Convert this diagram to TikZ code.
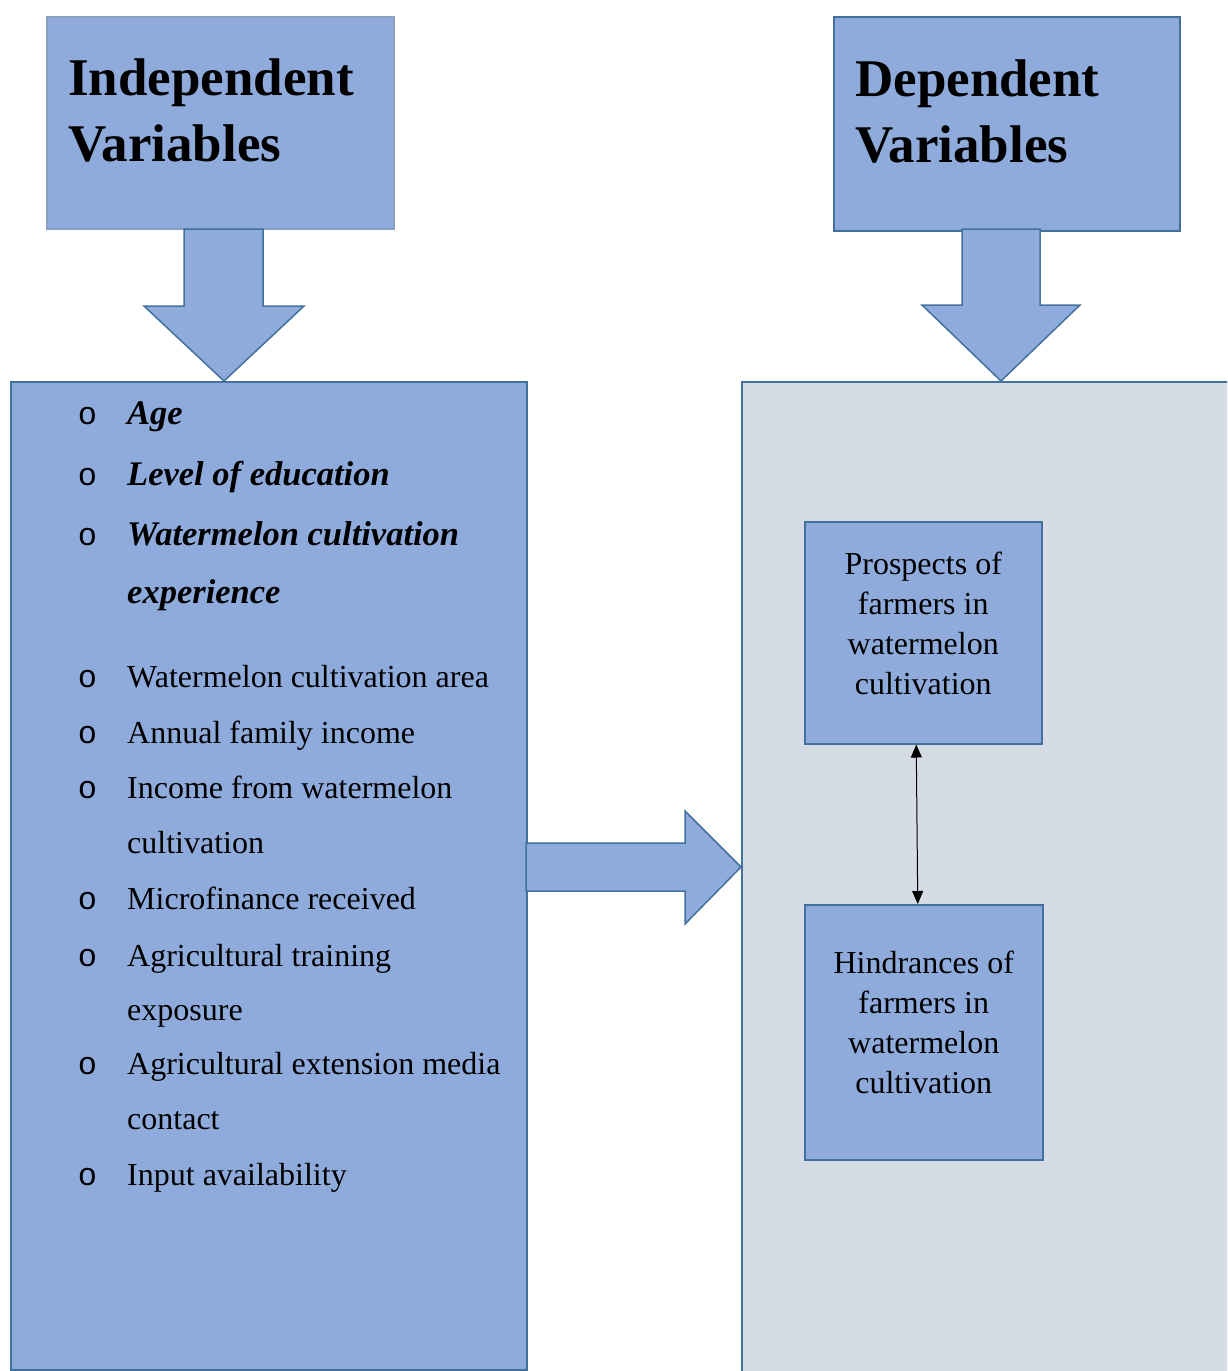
\documentclass[tikz,border=0pt]{standalone}
\usepackage{fontspec}
\setmainfont{Liberation Serif}
\newfontfamily\bulletfont{Liberation Mono}
\usetikzlibrary{arrows.meta, positioning}

\definecolor{boxFill}{RGB}{143,171,220}
\definecolor{boxLine}{RGB}{65,113,156}
\definecolor{titleLine}{RGB}{138,160,194}
\definecolor{panelFill}{RGB}{214,220,229}
\newcommand{\bulletmark}{\llap{{\normalfont\fontsize{32}{40}\selectfont\bulletfont o}\hspace{30pt}}}
\newcommand{\lift}{\rule[-20pt]{0pt}{20pt}}

\tikzset{
  varbox/.style={draw=boxLine, fill=boxFill, line width=1.5pt, inner sep=0pt, anchor=north west},
  blockarrow/.style={draw=boxLine, fill=boxFill, line width=1.5pt, line join=miter},
  title/.style={anchor=north west, inner sep=0pt, align=left, font=\fontsize{53}{66}\selectfont\bfseries},
  boxtext/.style={align=center, font=\fontsize{32}{40}\selectfont},
  item/.style={anchor=base west, inner sep=0pt, font=\fontsize{32}{40}\selectfont},
  keyitem/.style={item, font=\fontsize{34.5}{40}\selectfont\bfseries\itshape},
}

\begin{document}
\begin{tikzpicture}[x=1pt, y=-1pt, >={Triangle[length=13pt,width=11pt]}]
\clip (0,0) rectangle (1227,1371);
% the two big panels
\node[varbox, minimum width=516, minimum height=988] (indlist) at (10,381) {};
\node[varbox, fill=panelFill, minimum width=520, minimum height=1020] (deppanel) at (741,381) {};
% header boxes
\node[varbox, draw=titleLine, minimum width=347, minimum height=212] (indep) at (46,16) {};
\node[varbox, minimum width=346, minimum height=214] (dep) at (833,16) {};
\node[title] (indeptitle) at (68,59) {Independent\\Variables};
\node[title] (deptitle) at (855,60) {Dependent\\Variables};
% block arrows
\draw[blockarrow] (184,229) -- (263,229) -- (263,306) -- (304,306) -- (224,381) -- (144,306) -- (184,306) -- cycle;
\draw[blockarrow] (962,229) -- (1040,229) -- (1040,305) -- (1080,305) -- (1001,381) -- (922,305) -- (962,305) -- cycle;
\draw[blockarrow] (526,843) -- (685,843) -- (685,811) -- (741,867) -- (685,924) -- (685,891) -- (526,891) -- cycle;
% independent variables
\node[keyitem] (age) at (127,424) {\bulletmark Age};
\node[keyitem] (edu) at (127,485) {\bulletmark Level of education};
\node[keyitem] (exper) at (127,545) {\bulletmark Watermelon cultivation};
\node[keyitem] (experB) at (127,603) {experience};
\node[item] (area) at (127,687) {\bulletmark Watermelon cultivation area};
\node[item] (income) at (127,743) {\bulletmark Annual family income};
\node[item] (wmincome) at (127,798) {\bulletmark Income from watermelon};
\node[item] (wmincomeB) at (127,853) {cultivation};
\node[item] (micro) at (127,909) {\bulletmark Microfinance received};
\node[item] (training) at (127,966) {\bulletmark Agricultural training};
\node[item] (trainingB) at (127,1020) {exposure};
\node[item] (media) at (127,1074) {\bulletmark Agricultural extension media};
\node[item] (mediaB) at (127,1129) {contact};
\node[item] (input) at (127,1185) {\bulletmark Input availability};
% dependent variables
\node[varbox, boxtext, minimum width=237, minimum height=222] (prospects) at (804,521) {Prospects of\\farmers in\\watermelon\\cultivation\lift};
\node[varbox, boxtext, minimum width=238, minimum height=255] (hindrances) at (804,904) {Hindrances of\\farmers in\\watermelon\\cultivation\lift};
\draw[<->, line width=1pt] ([xshift=-7pt]prospects.south) -- ([xshift=-6pt]hindrances.north);
\end{tikzpicture}
\end{document}
